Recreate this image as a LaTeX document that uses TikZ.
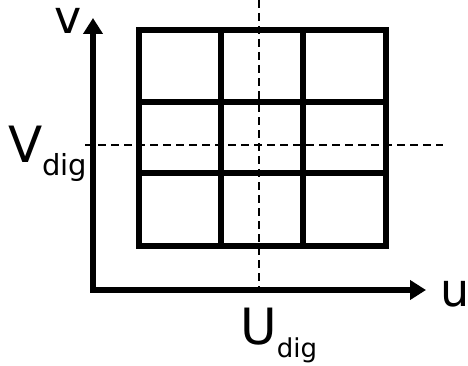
\documentclass[tikz,border=0pt]{standalone}
\usepackage{fontspec}
\setmainfont{DejaVu Sans}
\usetikzlibrary{arrows.meta}
\tikzset{
  gridline/.style={line width=6pt, line cap=rect},
  axisline/.style={line width=6pt, {Triangle[length=16pt,width=19pt]}-{Triangle[length=16pt,width=19pt]}},
  guide/.style={line width=1.5pt, dash pattern=on 8pt off 5pt},
  biglabel/.style={inner sep=0pt, anchor=base west, font=\fontsize{50}{60}\selectfont},
  axislabel/.style={inner sep=0pt, anchor=base west, font=\fontsize{46}{50}\selectfont},
}
\newcommand{\subtxt}[2]{\raisebox{-13pt}{\fontsize{#1}{#1}\selectfont #2}}
\begin{document}
\begin{tikzpicture}[x=1pt,y=1pt]
\useasboundingbox (0,0) rectangle (468,365);
% grid
\foreach \xx in {139,221,303,386} \draw[gridline] (\xx,119) -- (\xx,335);
\foreach \yy in {119,192,263,335} \draw[gridline] (139,\yy) -- (386,\yy);
% guides
\coordinate (hg1) at (85,220);
\coordinate (hg2) at (443,220);
\coordinate (vg1) at (259,365);
\coordinate (vg2) at (259,77);
\draw[guide] (hg1) -- (hg2);
\draw[guide] (vg1) -- (vg2);
% axes
\coordinate (origin) at (93,75);
\coordinate (vtip) at (93,347);
\coordinate (utip) at (426,75);
\draw[axisline] (vtip) -- (origin) -- (utip);
% labels
\node[axislabel] (vlab) at (54,331) {v};
\node[biglabel] (Vdig) at (8,203) {V\subtxt{29}{dig}};
\node[biglabel] (Udig) at (240,21) {U\subtxt{26}{dig}};
\node[axislabel] (ulab) at (440,59) {u};
\end{tikzpicture}
\end{document}
